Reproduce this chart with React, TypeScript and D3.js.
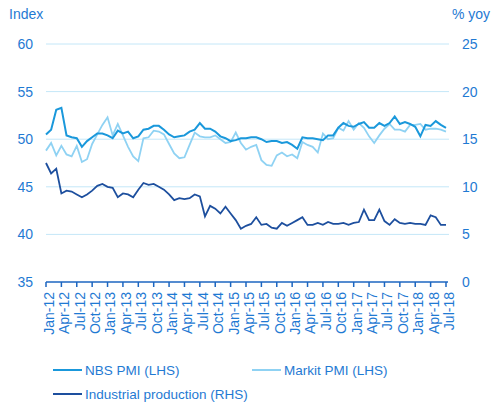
import { useRef, useEffect } from "react"
import * as d3 from "d3"

// monthly labels Jan-12 .. Jul-18
const monthNames = ["Jan", "Feb", "Mar", "Apr", "May", "Jun", "Jul", "Aug", "Sep", "Oct", "Nov", "Dec"]
const months: string[] = []
for (let y = 12; y <= 18; y++) {
  for (let m = 0; m < 12; m++) {
    if (y === 18 && m > 6) break
    months.push(`${monthNames[m]}-${y}`)
  }
}

const nbsPmi = [
  50.5, 51.0, 53.1, 53.3, 50.4, 50.2, 50.1, 49.2, 49.8, 50.2, 50.6, 50.6,
  50.4, 50.1, 50.9, 50.6, 50.8, 50.1, 50.3, 51.0, 51.1, 51.4, 51.4, 51.0,
  50.5, 50.2, 50.3, 50.4, 50.8, 51.0, 51.7, 51.1, 51.1, 50.8, 50.3, 50.1,
  49.8, 49.9, 50.1, 50.1, 50.2, 50.2, 50.0, 49.7, 49.8, 49.8, 49.6, 49.7,
  49.4, 49.0, 50.2, 50.1, 50.1, 50.0, 49.9, 50.4, 50.4, 51.2, 51.7, 51.4,
  51.3, 51.6, 51.8, 51.2, 51.2, 51.7, 51.4, 51.7, 52.4, 51.6, 51.8, 51.6,
  51.3, 50.3, 51.5, 51.4, 51.9, 51.5, 51.2,
]

const markitPmi = [
  48.8, 49.6, 48.3, 49.3, 48.4, 48.2, 49.3, 47.6, 47.9, 49.5, 50.5, 51.5,
  52.3, 50.4, 51.6, 50.4, 49.2, 48.2, 47.7, 50.1, 50.2, 50.9, 50.8, 50.5,
  49.5, 48.5, 48.0, 48.1, 49.4, 50.7, 50.3, 50.2, 50.2, 50.4, 50.0, 49.6,
  49.7, 50.7, 49.6, 48.9, 49.2, 49.4, 47.8, 47.3, 47.2, 48.3, 48.6, 48.2,
  48.4, 48.0, 49.7, 49.4, 49.2, 48.6, 50.6, 50.0, 50.1, 51.2, 50.9, 51.9,
  51.0, 51.7, 51.2, 50.3, 49.6, 50.4, 51.1, 51.6, 51.0, 51.0, 50.8, 51.5,
  51.5, 51.6, 51.0, 51.1, 51.1, 51.0, 50.8,
]

const industrialProd = [
  12.5, 11.4, 11.9, 9.3, 9.6, 9.5, 9.2, 8.9, 9.2, 9.6, 10.1, 10.3,
  10.0, 9.9, 8.9, 9.3, 9.2, 8.9, 9.7, 10.4, 10.2, 10.3, 10.0, 9.7,
  9.2, 8.6, 8.8, 8.7, 8.8, 9.2, 9.0, 6.9, 8.0, 7.7, 7.2, 7.9,
  7.2, 6.5, 5.6, 5.9, 6.1, 6.8, 6.0, 6.1, 5.7, 5.6, 6.2, 5.9,
  6.2, 6.5, 6.8, 6.0, 6.0, 6.2, 6.0, 6.3, 6.1, 6.1, 6.2, 6.0,
  6.2, 6.3, 7.6, 6.5, 6.5, 7.6, 6.4, 6.0, 6.6, 6.2, 6.1, 6.2,
  6.1, 6.1, 6.0, 7.0, 6.8, 6.0, 6.0,
]

const leftTicks = [35, 40, 45, 50, 55, 60]
const rightTicks = [0, 5, 10, 15, 20, 25]

const TEXT = "#1f7ad3"
const GRID = "#c4e7f8"
const AXIS = "#1c66c0"
const NBS = "#1a98db"
const MARKIT = "#8fd2f3"
const IP = "#1d4f9e"
const FONT = "'Liberation Sans', Arial, sans-serif"

const App = () => {
  const svgRef = useRef<SVGSVGElement>(null)

  useEffect(() => {
    const width = 491
    const height = 405
    const left = 46
    const right = 449
    const top = 44
    const bottom = 282

    const svg = d3.select(svgRef.current)
    svg.selectAll("*").remove()
    svg.attr("width", width).attr("height", height).style("font-family", FONT)

    const x = d3.scalePoint<string>().domain(months).range([left, 446])
    const yL = d3.scaleLinear().domain([35, 60]).range([bottom, top])
    const yR = d3.scaleLinear().domain([0, 25]).range([bottom, top])

    // gridlines
    svg
      .append("g")
      .selectAll("line")
      .data(leftTicks.filter((d) => d > 35))
      .enter()
      .append("line")
      .attr("x1", left)
      .attr("x2", right)
      .attr("y1", (d) => yL(d))
      .attr("y2", (d) => yL(d))
      .attr("stroke", GRID)
      .attr("stroke-width", 1)

    // left tick labels
    svg
      .append("g")
      .selectAll("text")
      .data(leftTicks)
      .enter()
      .append("text")
      .attr("x", 33)
      .attr("y", (d) => yL(d))
      .attr("dy", "0.35em")
      .attr("text-anchor", "end")
      .attr("fill", TEXT)
      .style("font-size", "14px")
      .text((d) => d)

    // right tick labels
    svg
      .append("g")
      .selectAll("text")
      .data(rightTicks)
      .enter()
      .append("text")
      .attr("x", 462)
      .attr("y", (d) => yR(d))
      .attr("dy", "0.35em")
      .attr("text-anchor", "start")
      .attr("fill", TEXT)
      .style("font-size", "14px")
      .text((d) => d)

    // axis titles
    svg.append("text").attr("x", 9).attr("y", 19).attr("fill", TEXT).style("font-size", "14px").text("Index")
    svg
      .append("text")
      .attr("x", 490)
      .attr("y", 19)
      .attr("text-anchor", "end")
      .attr("fill", TEXT)
      .style("font-size", "14px")
      .text("% yoy")

    // x axis
    const tickMonths = months.filter((_, i) => i % 3 === 0)
    svg
      .append("line")
      .attr("x1", left)
      .attr("x2", right - 1)
      .attr("y1", bottom)
      .attr("y2", bottom)
      .attr("stroke", AXIS)
      .attr("stroke-width", 1.5)

    svg
      .append("g")
      .selectAll("line")
      .data(tickMonths)
      .enter()
      .append("line")
      .attr("x1", (d) => x(d)!)
      .attr("x2", (d) => x(d)!)
      .attr("y1", bottom)
      .attr("y2", bottom + 5)
      .attr("stroke", AXIS)
      .attr("stroke-width", 1.5)

    svg
      .append("g")
      .selectAll("text")
      .data(tickMonths)
      .enter()
      .append("text")
      .attr("transform", (d) => `translate(${x(d)! + 3},${bottom + 10}) rotate(-90)`)
      .attr("dy", "0.35em")
      .attr("text-anchor", "end")
      .attr("fill", TEXT)
      .style("font-size", "14px")
      .text((d) => d)

    // lines
    const lineL = d3
      .line<number>()
      .x((_, i) => x(months[i])!)
      .y((d) => yL(d))
    const lineR = d3
      .line<number>()
      .x((_, i) => x(months[i])!)
      .y((d) => yR(d))

    svg
      .append("path")
      .datum(markitPmi)
      .attr("fill", "none")
      .attr("stroke", MARKIT)
      .attr("stroke-width", 1.8)
      .attr("d", lineL)

    svg
      .append("path")
      .datum(nbsPmi)
      .attr("fill", "none")
      .attr("stroke", NBS)
      .attr("stroke-width", 2)
      .attr("d", lineL)

    svg
      .append("path")
      .datum(industrialProd)
      .attr("fill", "none")
      .attr("stroke", IP)
      .attr("stroke-width", 1.8)
      .attr("d", lineR)

    // legend
    const legendItems = [
      { label: "NBS PMI (LHS)", color: NBS, lx: 53, ly: 370 },
      { label: "Markit PMI (LHS)", color: MARKIT, lx: 252, ly: 370 },
      { label: "Industrial production (RHS)", color: IP, lx: 53, ly: 394 },
    ]
    const legend = svg
      .selectAll(".legend")
      .data(legendItems)
      .enter()
      .append("g")
      .attr("class", "legend")
      .attr("transform", (d) => `translate(${d.lx},${d.ly})`)

    legend
      .append("line")
      .attr("x1", 0)
      .attr("x2", 29)
      .attr("stroke", (d) => d.color)
      .attr("stroke-width", 2)

    legend
      .append("text")
      .attr("x", 32)
      .attr("dy", "0.35em")
      .attr("fill", TEXT)
      .style("font-size", "13.5px")
      .text((d) => d.label)
  }, [])

  return <svg ref={svgRef} style={{ position: "absolute", left: 0, top: 0 }}></svg>
}

export default App
